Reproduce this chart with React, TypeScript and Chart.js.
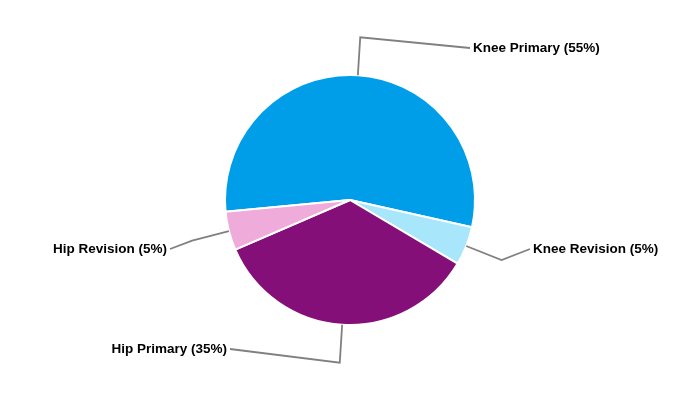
import React, { useEffect, useRef } from "react";
import { Chart, registerables } from "chart.js";

Chart.register(...registerables);

const categories = ["Knee Primary", "Knee Revision", "Hip Primary", "Hip Revision"];
const shares = [55, 5, 35, 5];
const colors = ["#009DE9", "#A8E6FB", "#850F78", "#EFABD9"];

// label anchor offsets relative to pie centre (layout styling)
const labelAnchors = [
  { dx: 120, dy: -152, align: "left" },
  { dx: 180, dy: 49, align: "left" },
  { dx: -120, dy: 149, align: "right" },
  { dx: -180, dy: 49, align: "right" },
];

const leaderPlugin = {
  id: "leaderLabels",
  afterDatasetsDraw(chart: any) {
    const ctx = chart.ctx;
    const meta = chart.getDatasetMeta(0);
    ctx.save();
    meta.data.forEach((arc: any, i: number) => {
      const { x, y, startAngle, endAngle, outerRadius } = arc.getProps(
        ["x", "y", "startAngle", "endAngle", "outerRadius"],
        true
      );
      const mid = (startAngle + endAngle) / 2;
      const r0 = outerRadius;
      const r1 = outerRadius + 38;
      const p0x = x + Math.cos(mid) * r0;
      const p0y = y + Math.sin(mid) * r0;
      const p1x = x + Math.cos(mid) * r1;
      const p1y = y + Math.sin(mid) * r1;
      const a = labelAnchors[i];
      const lx = x + a.dx;
      const ly = y + a.dy;
      ctx.beginPath();
      ctx.strokeStyle = "#808080";
      ctx.lineWidth = 1.8;
      ctx.moveTo(p0x, p0y);
      ctx.lineTo(p1x, p1y);
      ctx.lineTo(lx, ly);
      ctx.stroke();
      ctx.fillStyle = "#000000";
      ctx.font = "bold 13.5px 'Liberation Sans', Arial, sans-serif";
      ctx.textBaseline = "middle";
      ctx.textAlign = a.align as CanvasTextAlign;
      const text = `${categories[i]} (${shares[i]}%)`;
      ctx.fillText(text, a.align === "left" ? lx + 3 : lx - 3, ly);
    });
    ctx.restore();
  },
};

export default function App() {
  const ref = useRef<HTMLCanvasElement>(null);
  useEffect(() => {
    if (!ref.current) return;
    const chart = new Chart(ref.current, {
      type: "pie",
      data: {
        labels: categories,
        datasets: [
          {
            data: shares,
            backgroundColor: colors,
            borderColor: "#ffffff",
            borderWidth: 2,
          },
        ],
      },
      options: {
        animation: false,
        responsive: false,
        rotation: 264.6,
        layout: { padding: { top: 74, bottom: 74, left: 0, right: 0 } },
        plugins: {
          legend: { display: false },
          tooltip: { enabled: false },
        },
      },
      plugins: [leaderPlugin],
    });
    return () => chart.destroy();
  }, []);
  return (
    <div style={{ position: "fixed", left: 0, top: 0, width: 700, height: 400, background: "#fff" }}>
      <canvas ref={ref} width={700} height={400} style={{ width: 700, height: 400 }} />
    </div>
  );
}
